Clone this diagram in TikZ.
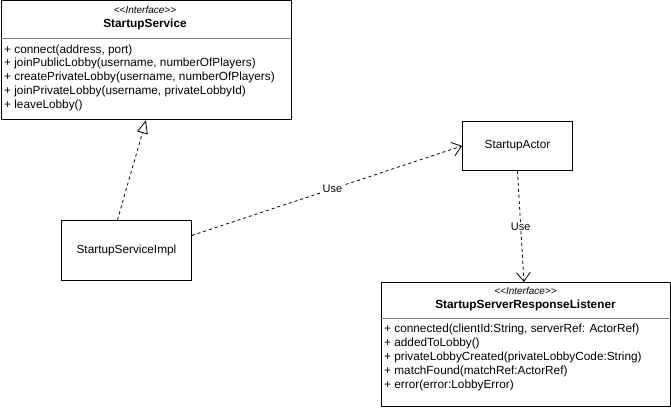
\documentclass[tikz,border=0pt]{standalone}
\usepackage{fontspec}
\setmainfont{Liberation Sans}
\usetikzlibrary{arrows.meta}
\begin{document}
\begin{tikzpicture}[x=1pt,y=-1pt,
  box/.style={draw,line width=0.9pt,minimum width=#1,inner sep=0pt,anchor=north west},
  txt/.style={anchor=west,inner sep=0pt,font=\fontsize{11.8}{13}\selectfont},
  ster/.style={inner sep=0pt,font=\fontsize{10}{11}\itshape},
  ttl/.style={inner sep=0pt,font=\fontsize{11.8}{13}\bfseries},
  dep/.style={dashed,dash pattern=on 3pt off 3pt,line width=0.8pt},
  use/.style={dep,-{Straight Barb[length=9pt,width=14pt,line width=0.8pt]}},
  impl/.style={dep,-{Triangle[open,length=13pt,width=11pt,line width=0.8pt]}}]
\path[use as bounding box] (0,0) rectangle (671,411);
% StartupService interface
\node[box=290,minimum height=119] (svc) at (0.5,0.5) {};
\draw[gray,line width=0.6pt] (svc.west |- 0,38) -- (svc.east |- 0,38);
\node[ster] (svcst) at (145,10) {<{}<Interface>{}>};
\node[ttl] (svcttl) at (145,24) {StartupService};
\node[txt] (m1) at (4,50) {+ connect(address, port)};
\node[txt] (m2) at (4,63.5) {+ joinPublicLobby(username, numberOfPlayers)};
\node[txt] (m3) at (4,77) {+ createPrivateLobby(username, numberOfPlayers)};
\node[txt] (m4) at (4,91) {+ joinPrivateLobby(username, privateLobbyId)};
\node[txt] (m5) at (4,105) {+ leaveLobby()};
% classes
\node[box=130,minimum height=60] (impl) at (61,220) {};
\node[txt,anchor=center] (impltxt) at (impl.center) {StartupServiceImpl};
\node[box=110,minimum height=49] (actor) at (462,121) {};
\node[txt,anchor=center] (actortxt) at (actor.center) {StartupActor};
% StartupServerResponseListener interface
\node[box=289,minimum height=124] (lst) at (381,282) {};
\draw[gray,line width=0.6pt] (lst.west |- 0,318) -- (lst.east |- 0,318);
\node[ster] (lstst) at (525.5,291) {<{}<Interface>{}>};
\node[ttl] (lstttl) at (525.5,305) {StartupServerResponseListener};
\node[txt] (l1) at (384,329) {+ connected(clientId:String, serverRef: ActorRef)};
\node[txt] (l2) at (384,343) {+ addedToLobby()};
\node[txt] (l3) at (384,357) {+ privateLobbyCreated(privateLobbyCode:String)};
\node[txt] (l4) at (384,371) {+ matchFound(matchRef:ActorRef)};
\node[txt] (l5) at (384,385) {+ error(error:LobbyError)};
% connectors
\draw[impl] ([xshift=-9pt]impl.north) -- (svc.south);
\draw[use] ([yshift=15pt]impl.east) -- (actor.west) node[pos=0.52,fill=white,inner sep=0.5pt,font=\fontsize{11}{12}\selectfont] (use1) {Use};
\draw[use] (actor.south) -- ([xshift=-2pt]lst.north) node[pos=0.5,fill=white,inner sep=0.5pt,font=\fontsize{11}{12}\selectfont] (use2) {Use};
\end{tikzpicture}
\end{document}
